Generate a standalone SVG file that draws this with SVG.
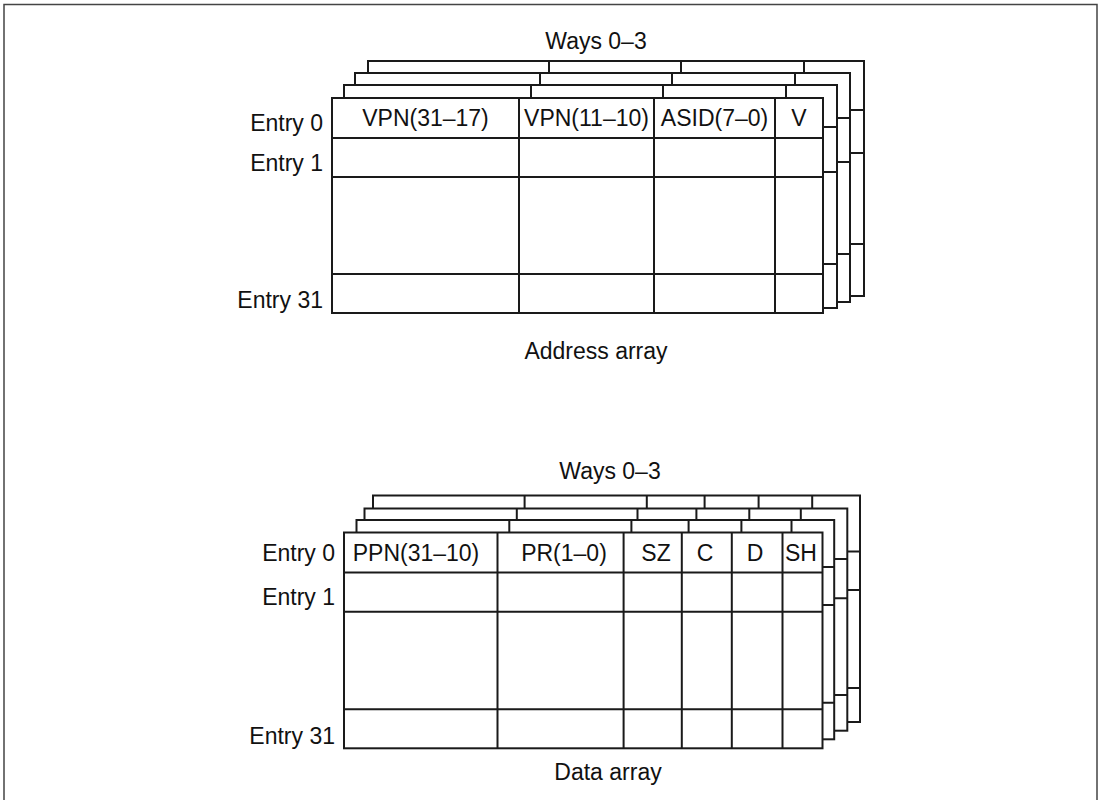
<svg xmlns="http://www.w3.org/2000/svg" width="1101" height="800" viewBox="0 0 1101 800">
<style>
.t{font-family:"Liberation Sans",Arial,sans-serif;font-size:23px;fill:#111}
.m{text-anchor:middle}
.e{text-anchor:end}
.tb rect{fill:#fff;stroke:#1a1a1a;stroke-width:2}
.tb path{fill:none;stroke:#1a1a1a;stroke-width:2}
.frame{fill:none;stroke:#444;stroke-width:1.5}
</style>
<rect width="1101" height="800" fill="#fff"/>
<path class="frame" d="M4,805 V4.5 H1097 V805"/>

<g id="address-array">
  <text class="t m" x="596" y="49">Ways 0–3</text>
  <g id="addr-way3" class="tb">
    <rect x="368" y="61" width="496" height="235"/>
    <path d="M549,61V296 M681,61V296 M804,61V296 M368,110H864 M368,153H864 M368,244H864"/>
  </g>
  <g id="addr-way2" class="tb">
    <rect x="355" y="73" width="495" height="229"/>
    <path d="M540,73V302 M672,73V302 M795,73V302 M355,118H850 M355,162H850 M355,254H850"/>
  </g>
  <g id="addr-way1" class="tb">
    <rect x="344" y="85" width="493" height="223"/>
    <path d="M531,85V308 M663,85V308 M786,85V308 M344,127H837 M344,172H837 M344,264H837"/>
  </g>
  <g id="addr-way0" class="tb">
    <rect x="332" y="98" width="491" height="215"/>
    <path d="M519,98V313 M654,98V313 M775,98V313 M332,138H823 M332,177H823 M332,274H823"/>
    <text class="t m" x="425.5" y="126">VPN(31–17)</text>
    <text class="t m" x="586.5" y="126">VPN(11–10)</text>
    <text class="t m" x="714.5" y="126">ASID(7–0)</text>
    <text class="t m" x="799" y="126">V</text>
  </g>
  <text class="t e" x="323" y="131">Entry 0</text>
  <text class="t e" x="323" y="171">Entry 1</text>
  <text class="t e" x="323" y="308">Entry 31</text>
  <text class="t m" x="596" y="359">Address array</text>
</g>

<g id="data-array">
  <text class="t m" x="610" y="479">Ways 0–3</text>
  <g id="data-way3" class="tb">
    <rect x="373" y="495.5" width="487" height="226.5"/>
    <path d="M524.6,495.5V722 M646.8,495.5V722 M704.6,495.5V722 M758.6,495.5V722 M812.2,495.5V722 M373,551.5H860 M373,590H860 M373,688H860"/>
  </g>
  <g id="data-way2" class="tb">
    <rect x="364.5" y="508.5" width="482.8" height="222.2"/>
    <path d="M516.8,508.5V730.7 M637.5,508.5V730.7 M696.4,508.5V730.7 M749.3,508.5V730.7 M800.8,508.5V730.7 M364.5,559H847.3 M364.5,598.3H847.3 M364.5,695H847.3"/>
  </g>
  <g id="data-way1" class="tb">
    <rect x="356.5" y="520" width="477.7" height="219.3"/>
    <path d="M509.3,520V739.3 M631.4,520V739.3 M688.6,520V739.3 M741.4,520V739.3 M791.5,520V739.3 M356.5,567H834.2 M356.5,605H834.2 M356.5,702.7H834.2"/>
  </g>
  <g id="data-way0" class="tb">
    <rect x="344" y="532.5" width="478.5" height="215.8"/>
    <path d="M497.5,532.5V748.3 M623.6,532.5V748.3 M681.8,532.5V748.3 M731.8,532.5V748.3 M782.5,532.5V748.3 M344,572.5H822.5 M344,611.7H822.5 M344,709.3H822.5"/>
    <text class="t m" x="416" y="561">PPN(31–10)</text>
    <text class="t m" x="564" y="561">PR(1–0)</text>
    <text class="t m" x="656" y="561">SZ</text>
    <text class="t m" x="705" y="561">C</text>
    <text class="t m" x="755" y="561">D</text>
    <text class="t m" x="801" y="561">SH</text>
  </g>
  <text class="t e" x="335" y="561">Entry 0</text>
  <text class="t e" x="335" y="605">Entry 1</text>
  <text class="t e" x="335" y="744">Entry 31</text>
  <text class="t m" x="608" y="780">Data array</text>
</g>
</svg>
